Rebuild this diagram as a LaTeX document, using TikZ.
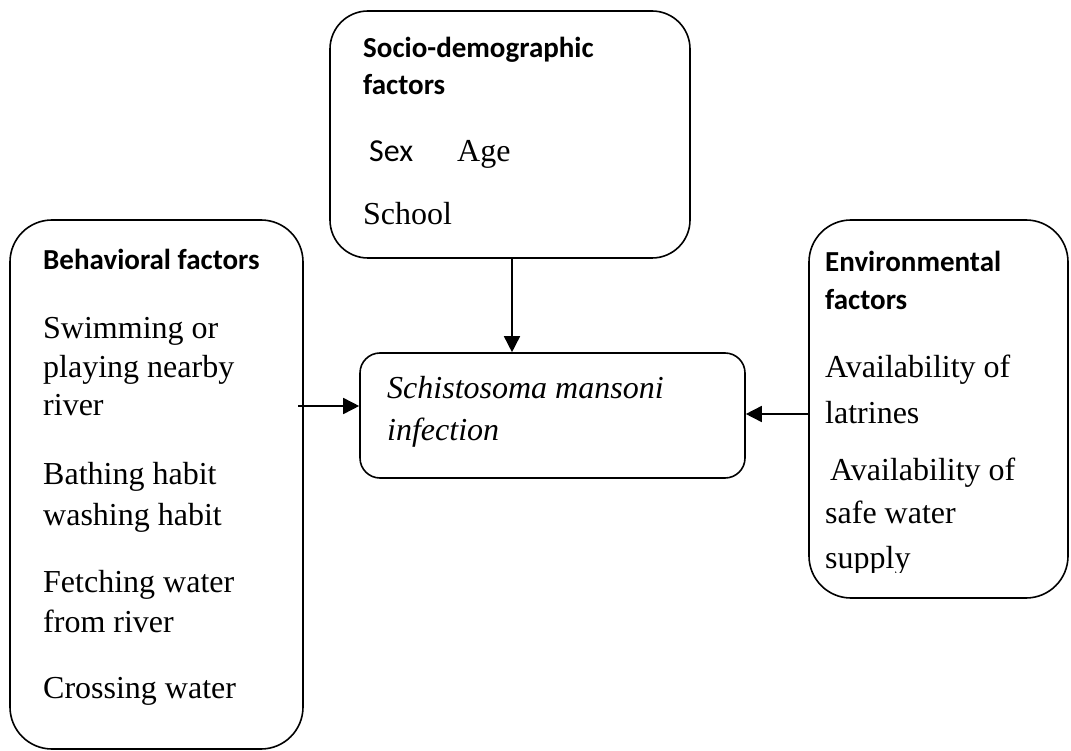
\documentclass[tikz,border=0pt]{standalone}
\usepackage{fontspec}
\setmainfont{Liberation Serif}
\newfontfamily\calibfont{Carlito}
\usetikzlibrary{arrows.meta}
\tikzset{
  box/.style={draw, line width=1.6pt, inner sep=0pt, rounded corners=#1},
  box/.default=38pt,
  head/.style={anchor=base west, inner sep=0pt, font=\calibfont\bfseries\fontsize{29}{33}\selectfont},
  body/.style={anchor=base west, inner sep=0pt, font=\fontsize{32}{38}\selectfont},
  arr/.style={line width=1.6pt, -{Triangle[length=16pt,width=16pt]}},
}
\begin{document}
\begin{tikzpicture}[x=1pt,y=-1pt]
\useasboundingbox (0,0) rectangle (1071,751);
% boxes
\node[box=38pt, minimum width=360pt, minimum height=247pt] (top) at (510,134.5) {};
\node[box=42pt, minimum width=293pt, minimum height=529pt] (lb) at (156.5,484.5) {};
\node[box=20pt, minimum width=385pt, minimum height=125pt] (mid) at (552.5,415.5) {};
\node[box=42pt, minimum width=259pt, minimum height=378pt] (rb) at (938.5,409) {};
% top box text
\node[head] (t1) at (363,58) {Socio-demographic};
\node[head] (t2) at (363,95) {factors};
\node[anchor=base west, inner sep=0pt, font=\calibfont\fontsize{32}{36}\selectfont] (t3) at (369,162) {Sex};
\node[body] (t4) at (457,162) {Age};
\node[body] (t5) at (363,225) {School};
% left box text
\node[head] (l0) at (43,270) {Behavioral factors};
\node[body] (l1) at (43,338) {Swimming or};
\node[body] (l2) at (43,377) {playing nearby};
\node[body] (l3) at (43,415) {river};
\node[body] (l4) at (43,484) {Bathing habit};
\node[body] (l5) at (43,525) {washing habit};
\node[body] (l6) at (43,592) {Fetching water};
\node[body] (l7) at (43,632) {from river};
\node[body] (l8) at (43,698) {Crossing water};
% middle text
\node[body, font=\itshape\fontsize{32}{38}\selectfont] (m1) at (387,398) {Schistosoma mansoni};
\node[body, font=\itshape\fontsize{32}{38}\selectfont] (m2) at (387,440) {infection};
% right box text
\node[head] (r0) at (825,272) {Environmental};
\node[head] (r1) at (825,310) {factors};
\node[body] (r2) at (825,377) {Availability of};
\node[body] (r3) at (825,423) {latrines};
\node[body] (r4) at (830,480) {Availability of};
\node[body] (r5) at (825,523) {safe water};
\begin{scope}
\clip (809,540) rectangle (1068,572);
\node[body] (r6) at (825,568) {supply};
\end{scope}
% arrows
\coordinate (ta) at (512,258);
\draw[arr] (ta) -- (ta |- mid.north);
\coordinate (la) at (298,406);
\draw[arr] (la) -- (la -| mid.west);
\coordinate (ra) at (809,414);
\draw[arr] (ra) -- (ra -| mid.east);
\end{tikzpicture}
\end{document}
